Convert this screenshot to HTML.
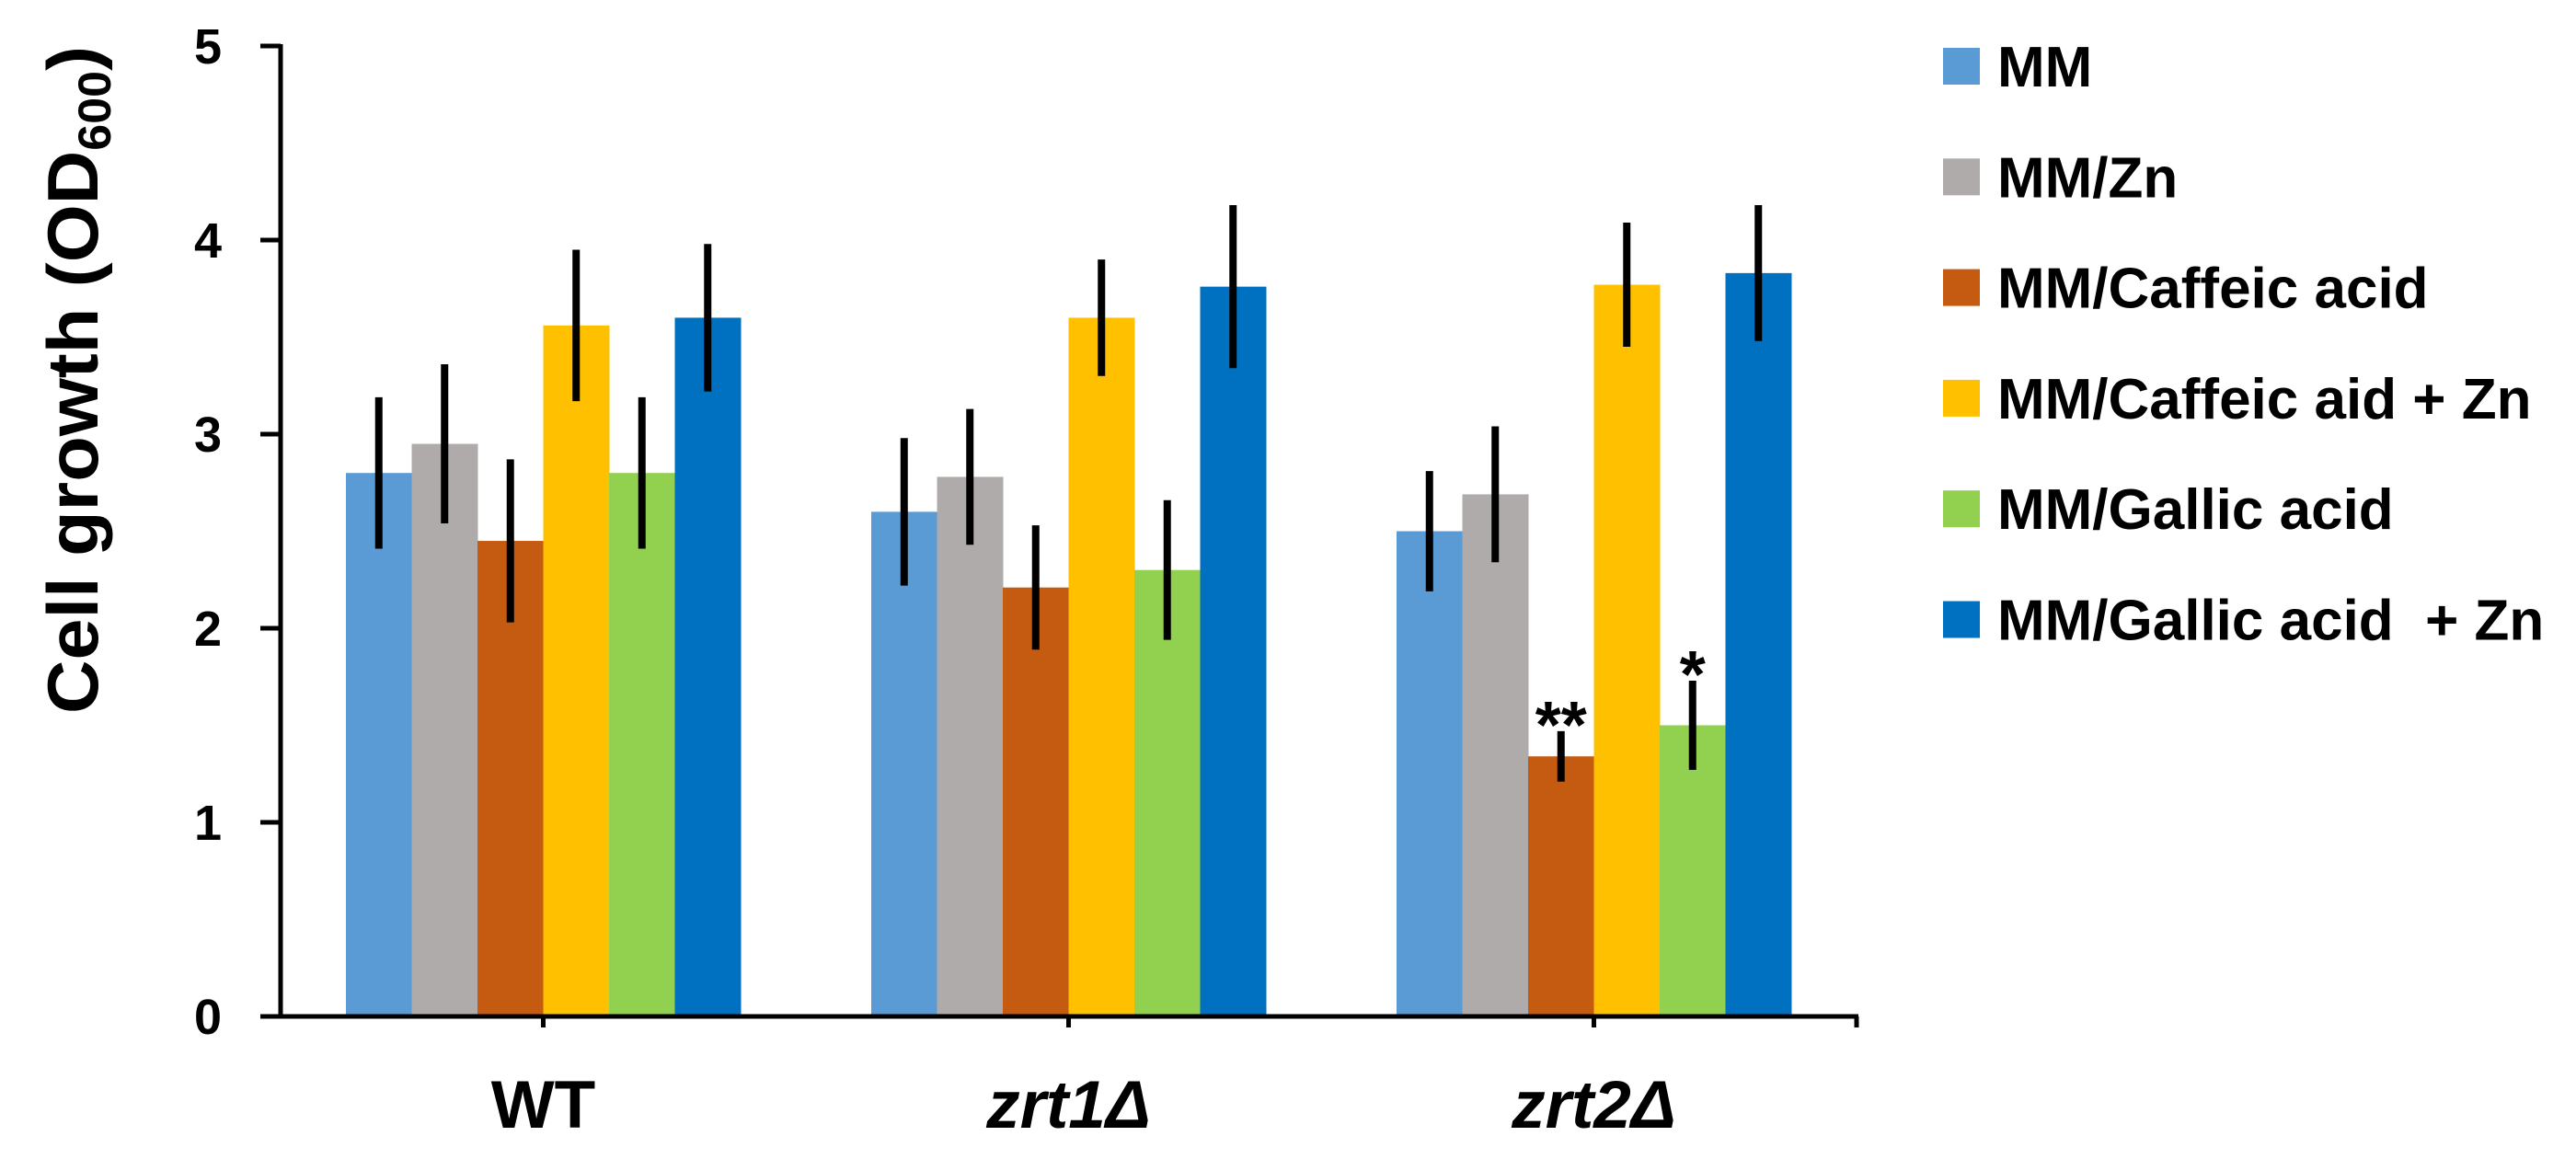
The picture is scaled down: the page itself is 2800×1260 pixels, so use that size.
<!DOCTYPE html>
<html><head><meta charset="utf-8"><style>
html,body{margin:0;padding:0;background:#fff;}
svg{display:block;font-family:"Liberation Sans",sans-serif;}
</style></head><body>
<svg id="chart" width="2800" height="1260" viewBox="0 0 2800 1260" xmlns="http://www.w3.org/2000/svg"></svg>
<script>
const categories = ["WT", "zrt1Δ", "zrt2Δ"];
const seriesNames = ["MM", "MM/Zn", "MM/Caffeic acid", "MM/Caffeic aid + Zn", "MM/Gallic acid", "MM/Gallic acid  + Zn"];
const seriesColors = ["#5B9BD5", "#AFABAB", "#C55A11", "#FFC000", "#92D050", "#0070C0"];
const valuesMM = [2.80, 2.60, 2.50];
const valuesZn = [2.95, 2.78, 2.69];
const valuesCaffeic = [2.45, 2.21, 1.34];
const valuesCaffeicZn = [3.56, 3.60, 3.77];
const valuesGallic = [2.80, 2.30, 1.50];
const valuesGallicZn = [3.60, 3.76, 3.83];
const errMM = [0.39, 0.38, 0.31];
const errZn = [0.41, 0.35, 0.35];
const errCaffeic = [0.42, 0.32, 0.13];
const errCaffeicZn = [0.39, 0.30, 0.32];
const errGallic = [0.39, 0.36, 0.23];
const errGallicZn = [0.38, 0.42, 0.35];
const yTicks = [0, 1, 2, 3, 4, 5];
const significance = [{cat: 2, series: 2, label: "**"}, {cat: 2, series: 4, label: "*"}];

const allValues = [valuesMM, valuesZn, valuesCaffeic, valuesCaffeicZn, valuesGallic, valuesGallicZn];
const allErr = [errMM, errZn, errCaffeic, errCaffeicZn, errGallic, errGallicZn];

const NS = "http://www.w3.org/2000/svg";
const svg = document.getElementById("chart");
const X0 = 305, X1 = 2018, Y0 = 1105, Y5 = 50;
const catW = (X1 - X0) / categories.length;
const barW = 71.5;
function yScale(v){ return Y0 - (v / 5) * (Y0 - Y5); }
function catCenter(i){ return X0 + catW * (i + 0.5); }
function barX(c, s){ return catCenter(c) - barW * seriesNames.length / 2 + s * barW; }
function mk(tag, attrs, parent){
  const e = document.createElementNS(NS, tag);
  for (const k in attrs) e.setAttribute(k, attrs[k]);
  (parent || svg).appendChild(e);
  return e;
}

allValues.forEach((vals, s) => {
  vals.forEach((v, c) => {
    const r = mk("rect", {x: barX(c, s), y: yScale(v), width: barW + 0.5, height: Y0 - yScale(v), fill: seriesColors[s]});
    
    
  });
});
allValues.forEach((vals, s) => {
  vals.forEach((v, c) => {
    const cx = barX(c, s) + barW / 2;
    const e = allErr[s][c];
    const l = mk("line", {x1: cx, x2: cx, y1: yScale(v + e), y2: yScale(v - e), stroke: "#000", "stroke-width": 8});
    
    
  });
});
significance.forEach(sg => {
  const cx = barX(sg.cat, sg.series) + barW / 2;
  const top = allValues[sg.series][sg.cat] + allErr[sg.series][sg.cat];
  const t = mk("text", {x: cx, y: yScale(top) + 18, "text-anchor": "middle", "font-size": 72, "font-weight": "bold"});
  t.textContent = sg.label;
  
  
});
const ya = mk("line", {x1: X0, x2: X0, y1: Y5 - 2, y2: Y0 + 2, stroke: "#000", "stroke-width": 5});


const xa = mk("line", {x1: 283, x2: X1 + 2, y1: Y0, y2: Y0, stroke: "#000", "stroke-width": 5});


yTicks.forEach(t => {
  const y = yScale(t);
  const tk = mk("line", {x1: 283, x2: X0, y1: y, y2: y, stroke: "#000", "stroke-width": 5});
  
  
  const lb = mk("text", {x: 241, y: y + 19, "text-anchor": "end", "font-size": 54, "font-weight": "bold"});
  lb.textContent = t;
  
  
});
categories.forEach((c, i) => {
  const x = catCenter(i);
  const tk = mk("line", {x1: x, x2: x, y1: Y0, y2: Y0 + 12, stroke: "#000", "stroke-width": 5});
  
  
  const lb = mk("text", {x: x, y: 1226, "text-anchor": "middle", "font-size": 73, "font-weight": "bold", "font-style": i === 0 ? "normal" : "italic"});
  lb.textContent = c;
  
  
});
const endTk = mk("line", {x1: X1, x2: X1, y1: Y0, y2: Y0 + 12, stroke: "#000", "stroke-width": 5});



const yt = mk("text", {transform: "translate(106,413) rotate(-90)", "text-anchor": "middle", "font-size": 78, "font-weight": "bold", textLength: 726, lengthAdjust: "spacingAndGlyphs"});


yt.innerHTML = 'Cell growth (OD<tspan font-size="50" dy="14">600</tspan><tspan dy="-14">)</tspan>';

seriesNames.forEach((n, i) => {
  const cy = 72 + i * 120.3;
  const g = mk("g", {});
  
  
  mk("rect", {x: 2112, y: cy - 20, width: 40, height: 40, fill: seriesColors[i]}, g);
  const t = mk("text", {x: 2171, y: cy + 22, "font-size": 62, "font-weight": "bold"}, g);
  t.setAttribute("style", "white-space:pre");
  t.textContent = n;
});
</script>
</body></html>
